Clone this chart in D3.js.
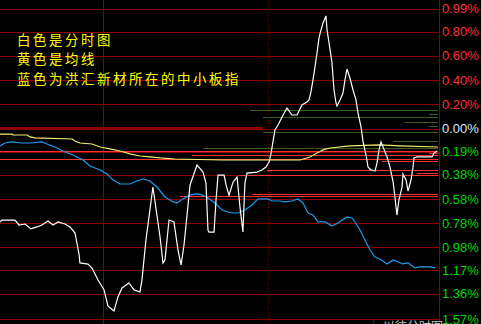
<!DOCTYPE html>
<html>
<head>
<meta charset="utf-8">
<script src="https://cdn.jsdelivr.net/npm/d3@7"></script>
<style>
body { margin: 0; background: #000; overflow: hidden; }
svg { display: block; }
</style>
</head>
<body>
<svg id="chart"></svg>
<script>
// Full size of the svg element.
const WIDTH = 481
const HEIGHT = 324
// Right edge of the price area, axis labels sit to the right of it.
const PLOT_RIGHT = 439

// Percent change ticks on the right axis (negative shown without sign).
const tickValues = [0.99, 0.8, 0.6, 0.4, 0.2, 0.0, -0.19, -0.38, -0.58, -0.78, -0.98, -1.17, -1.36, -1.57]

// Minutes of the two vertical marker lines.
const solidMarkMinute = 56.5
const dottedMarkMinute = 147
// The zero line is drawn heavier up to this minute.
const zeroHeavyEnd = 143.8

// White line: intraday price (minute, percent).
const priceMinutes = [0, 1.1, 8.2, 10.4, 13.7, 16.9, 20.2, 23, 26.2, 29, 31.7, 35.5, 38.3, 41, 43.2, 43.7, 48.1, 50.3, 53.6, 56.9, 59, 62.3, 64.5, 66.7, 70.5, 73.3, 76.5, 77.6, 79.8, 83.6, 87.5, 89.1, 90.2, 92.4, 95.1, 97.3, 99, 100.6, 103.9, 107.7, 111, 112.6, 113.7, 114.3, 117, 118.1, 119.2, 122.5, 123.6, 125.2, 127.4, 129.6, 131.2, 132.8, 133.9, 135, 140.5, 143.2, 145.4, 147.1, 148.2, 150.3, 152, 154.2, 156.9, 159.6, 162.4, 165.1, 167.8, 168.9, 170, 171.1, 172.2, 173.3, 174.4, 175.5, 176.6, 178.2, 178.8, 179.9, 181.5, 182.6, 183.7, 184.2, 185.9, 187.5, 188.6, 189.7, 191.3, 193, 194.6, 195.7, 197.4, 198.5, 200.1, 201.2, 202.8, 205, 206.1, 207.2, 208.3, 209.4, 211.6, 213.2, 214.9, 215.9, 217, 218.1, 219.8, 220.3, 222, 223.1, 224.7, 225.8, 226.3, 228, 236.2, 237.3, 238.9]
const priceValues = [-0.77, -0.754, -0.754, -0.795, -0.787, -0.827, -0.811, -0.795, -0.762, -0.795, -0.77, -0.787, -0.811, -0.861, -1.034, -1.108, -1.117, -1.15, -1.249, -1.33, -1.462, -1.504, -1.388, -1.314, -1.273, -1.33, -1.347, -1.249, -0.918, -0.482, -0.894, -1.108, -1.083, -0.754, -0.77, -1.0, -1.125, -0.96, -0.465, -0.3, -0.358, -0.449, -0.836, -0.853, -0.853, -0.589, -0.384, -0.384, -0.467, -0.549, -0.442, -0.4, -0.648, -0.853, -0.449, -0.367, -0.359, -0.341, -0.317, -0.276, -0.202, -0.012, 0.03, 0.095, 0.169, 0.112, 0.112, 0.195, 0.219, 0.236, 0.302, 0.401, 0.508, 0.623, 0.747, 0.813, 0.871, 0.929, 0.813, 0.706, 0.541, 0.318, 0.211, 0.186, 0.236, 0.293, 0.401, 0.491, 0.417, 0.318, 0.236, 0.129, 0.013, -0.11, -0.218, -0.317, -0.341, -0.35, -0.284, -0.176, -0.11, -0.151, -0.234, -0.317, -0.44, -0.564, -0.713, -0.589, -0.482, -0.374, -0.424, -0.515, -0.424, -0.317, -0.243, -0.234, -0.234, -0.202, -0.185]

// Yellow line: average price.
const avgMinutes = [0, 6.6, 7.1, 14.8, 16.4, 19.1, 39.4, 41, 43.7, 50.3, 54.7, 60.1, 65.6, 71.1, 76.5, 82, 87.5, 95.7, 121.9, 164, 169.5, 173.3, 176.6, 180.4, 191.3, 207.7, 218.7, 239.5]
const avgValues = [-0.045, -0.045, -0.053, -0.053, -0.069, -0.077, -0.086, -0.102, -0.119, -0.127, -0.152, -0.168, -0.185, -0.209, -0.226, -0.234, -0.242, -0.251, -0.259, -0.259, -0.234, -0.201, -0.176, -0.16, -0.143, -0.135, -0.143, -0.152]

// Blue line: SME board index.
const indexMinutes = [0, 2.7, 6.6, 12, 16.4, 23, 25.7, 30.1, 34.4, 39.9, 45.4, 49.2, 54.7, 58.5, 61.8, 65.6, 71.1, 74.9, 78.2, 82, 85.8, 90.2, 94.6, 96.8, 100, 103.9, 107.7, 110.4, 113.7, 117.5, 121.4, 124.6, 127.4, 130.1, 133.9, 137.8, 141, 146, 149.2, 153.1, 155.8, 159.6, 162.9, 165.6, 168.4, 171.1, 173.8, 177.7, 181.5, 184.8, 189.7, 192.4, 194.1, 196.8, 199.5, 202.3, 205, 207.7, 211.6, 214.9, 217.6, 220.3, 223.1, 226.9, 229.6, 235.1, 237.8]
const indexValues = [-0.143, -0.119, -0.11, -0.119, -0.119, -0.11, -0.127, -0.152, -0.185, -0.218, -0.259, -0.308, -0.341, -0.374, -0.424, -0.457, -0.457, -0.432, -0.416, -0.432, -0.482, -0.564, -0.605, -0.613, -0.58, -0.547, -0.539, -0.547, -0.572, -0.613, -0.671, -0.688, -0.696, -0.696, -0.671, -0.63, -0.58, -0.58, -0.597, -0.597, -0.605, -0.597, -0.58, -0.613, -0.696, -0.712, -0.77, -0.77, -0.803, -0.778, -0.729, -0.737, -0.77, -0.836, -0.918, -1.001, -1.059, -1.075, -1.116, -1.083, -1.1, -1.116, -1.108, -1.149, -1.141, -1.141, -1.149]

// Bright red price levels (percent) and the minute where each one starts.
const redLevels = [-0.19, -0.204, -0.222, -0.253, -0.273, -0.347, -0.369, -0.385, -0.542, -0.561]
const redStarts = [0, 234.5, 105, 0, 208.8, 146, 228, 130.7, 137.8, 98.4]

// Dark green price levels and their start minutes.
const greenLevels = [0.153, 0.112, 0.09, 0.054, 0.021, -0.036, -0.11, -0.168]
const greenStarts = [136.7, 234.5, 143.8, 221.4, 234.5, 143.8, 214.9, 111]

const notes = ["白色是分时图", "黄色是均线", "蓝色为洪汇新材所在的中小板指"]

const xScale = d3.scaleLinear().domain([0, 240]).range([0, PLOT_RIGHT])
const yScale = d3.scaleLinear().domain([-1.57, 0.99]).range([319, 8.5])

const svg = d3.select("#chart").attr("width", WIDTH).attr("height", HEIGHT)
svg.append("rect").attr("width", WIDTH).attr("height", HEIGHT).attr("fill", "#000")

// Grid and right axis labels.
const axis = d3.axisRight(yScale)
  .tickValues(tickValues)
  .tickSizeInner(-PLOT_RIGHT)
  .tickSizeOuter(0)
  .tickPadding(3)
  .tickFormat((d) => Math.abs(d).toFixed(2) + "%")

const axisG = svg.append("g").attr("transform", `translate(${PLOT_RIGHT},0)`).call(axis)
axisG.select(".domain").remove()
axisG.selectAll(".tick line")
  .attr("stroke", "#8c0000")
  .attr("shape-rendering", "crispEdges")
axisG.selectAll(".tick text")
  .attr("font-family", "Liberation Sans, Arial, sans-serif")
  .attr("font-size", 13)
  .attr("fill", (d) => (d > 0 ? "#ff3030" : d < 0 ? "#00d800" : "#dce8f4"))

// Heavier zero line on the left part.
svg.append("line")
  .attr("x1", 0).attr("x2", xScale(zeroHeavyEnd))
  .attr("y1", yScale(0)).attr("y2", yScale(0))
  .attr("stroke", "#8c0000").attr("stroke-width", 3)

// Vertical markers and right border.
svg.append("line")
  .attr("x1", xScale(solidMarkMinute)).attr("x2", xScale(solidMarkMinute))
  .attr("y1", 0).attr("y2", HEIGHT)
  .attr("stroke", "#8c0000").attr("shape-rendering", "crispEdges")
svg.append("line")
  .attr("x1", xScale(dottedMarkMinute)).attr("x2", xScale(dottedMarkMinute))
  .attr("y1", 0).attr("y2", HEIGHT)
  .attr("stroke", "#8c0000").attr("stroke-dasharray", "1,2").attr("shape-rendering", "crispEdges")
svg.append("line")
  .attr("x1", PLOT_RIGHT + 0.5).attr("x2", PLOT_RIGHT + 0.5)
  .attr("y1", 0).attr("y2", HEIGHT)
  .attr("stroke", "#8c0000")

// Price level lines, each running to the right edge.
function levelLines(levels, starts, color, cls) {
  svg.selectAll("." + cls)
    .data(levels.map((v, i) => ({ v, start: starts[i] })))
    .join("line")
    .attr("class", cls)
    .attr("x1", (d) => xScale(d.start))
    .attr("x2", PLOT_RIGHT - 1)
    .attr("y1", (d) => yScale(d.v))
    .attr("y2", (d) => yScale(d.v))
    .attr("stroke", color)
    .attr("shape-rendering", "crispEdges")
}
levelLines(greenLevels, greenStarts, "#3e5c1c", "green-level")
levelLines(redLevels, redStarts, "#ff3030", "red-level")

// Series lines.
const line = d3.line().x((d) => xScale(d[0])).y((d) => yScale(d[1]))
function drawSeries(minutes, values, color) {
  svg.append("path")
    .datum(minutes.map((m, i) => [m, values[i]]))
    .attr("d", line)
    .attr("fill", "none")
    .attr("stroke", color)
    .attr("stroke-width", 1.2)
}
drawSeries(indexMinutes, indexValues, "#1a9cf0")
drawSeries(avgMinutes, avgValues, "#f0f070")
drawSeries(priceMinutes, priceValues, "#ffffff")

// Legend notes.
svg.selectAll(".note")
  .data(notes)
  .join("text")
  .attr("class", "note")
  .attr("x", 17)
  .attr("y", (d, i) => 38.5 + i * 19.6)
  .attr("dominant-baseline", "central")
  .attr("font-family", "Noto Sans CJK SC, sans-serif")
  .attr("font-size", 13.4)
  .attr("letter-spacing", 2.6)
  .attr("fill", "#ffff00")
  .text((d) => d)

// Clipped tab at the bottom right.
svg.append("line")
  .attr("x1", 373.5).attr("x2", 373.5).attr("y1", 319).attr("y2", HEIGHT)
  .attr("stroke", "#8c0000")
svg.append("text")
  .attr("x", 383).attr("y", 331)
  .attr("font-family", "Noto Sans CJK SC, sans-serif")
  .attr("font-size", 12)
  .attr("fill", "#c8c8c8")
  .text("以往分时图")
</script>
</body>
</html>
